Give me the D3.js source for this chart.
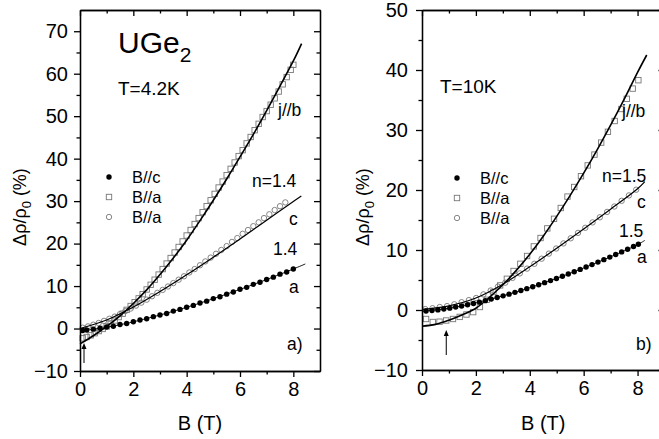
<!DOCTYPE html>
<html>
<head>
<meta charset="utf-8">
<script src="https://cdn.jsdelivr.net/npm/d3@7"></script>
<style>
  body { margin: 0; background: #fff; }
  text { font-family: "Liberation Sans", Arial, sans-serif; fill: #000; }
</style>
</head>
<body>
<svg id="chart" width="659" height="439"></svg>
<script>
// ---- tick values ----
const xMajor = [0, 2, 4, 6, 8];
const xMinor = [1, 3, 5, 7];
const yMajorLeft = [-10, 0, 10, 20, 30, 40, 50, 60, 70];
const yMinorLeft = [-5, 5, 15, 25, 35, 45, 55, 65];
const yMajorRight = [-10, 0, 10, 20, 30, 40, 50];
const yMinorRight = [-5, 5, 15, 25, 35, 45];

// ---- T = 4.2 K : measured points [B (T), Δρ/ρ0 (%)] ----
const lowBc = [[0.10,-0.45],[0.25,-0.35],[0.50,-0.15],[0.75,0.05],[1.00,0.35],[1.25,0.55],[1.50,0.95],[1.75,1.2],[2.00,1.6],[2.25,2.0],[2.50,2.3],[2.75,2.8],[3.00,3.2],[3.25,3.55],[3.50,4.1],[3.75,4.5],[4.00,5.0],[4.25,5.45],[4.50,6.0],[4.75,6.45],[5.00,7.05],[5.25,7.5],[5.50,8.1],[5.75,8.6],[6.00,9.25],[6.25,9.7],[6.50,10.4],[6.75,10.9],[7.00,11.55],[7.25,12.1],[7.50,12.8],[7.75,13.3],[8.00,14.0]];
const lowBaJb = [[0.10,-2.3],[0.25,-2.0],[0.40,-1.6],[0.55,-1.1],[0.70,-0.6],[0.85,-0.1],[1.00,0.5],[1.15,1.2],[1.30,1.9],[1.45,2.7],[1.60,3.5],[1.75,4.4],[1.90,5.3],[2.05,6.2],[2.20,7.1],[2.35,8.1],[2.50,9.2],[2.65,10.3],[2.80,11.5],[2.95,12.7],[3.10,14.0],[3.25,15.3],[3.40,16.6],[3.55,17.9],[3.70,19.2],[3.85,20.5],[4.00,21.9],[4.15,23.2],[4.30,24.6],[4.45,26.0],[4.60,27.4],[4.75,28.8],[4.90,30.2],[5.05,31.7],[5.20,33.2],[5.35,34.6],[5.50,36.1],[5.65,37.6],[5.80,39.1],[5.95,40.6],[6.10,42.0],[6.25,43.6],[6.40,45.1],[6.55,46.7],[6.70,48.2],[6.85,49.8],[7.00,51.2],[7.15,52.7],[7.30,54.2],[7.45,55.8],[7.60,57.5],[7.75,59.2],[7.90,60.9],[8.00,62.1]];
const lowBaJc = [[0.1,0.2],[0.3,0.5],[0.5,0.9],[0.7,1.3],[0.9,1.8],[1.1,2.3],[1.3,2.8],[1.5,3.4],[1.7,4.1],[1.9,4.7],[2.1,5.4],[2.3,6.1],[2.5,6.8],[2.7,7.6],[2.9,8.4],[3.1,9.1],[3.3,9.9],[3.5,10.7],[3.7,11.5],[3.9,12.3],[4.1,13.2],[4.3,14.0],[4.5,14.9],[4.7,15.8],[4.9,16.7],[5.1,17.6],[5.3,18.5],[5.5,19.4],[5.7,20.4],[5.9,21.3],[6.1,22.3],[6.3,23.2],[6.5,24.1],[6.7,25.0],[6.9,26.0],[7.1,26.9],[7.3,27.9],[7.5,28.8],[7.7,29.7]];
// fitted curves, 4.2 K
const lowFitJb = [[0,-3.6],[0.5,-1.7],[1,0.5],[1.5,3.0],[2,5.9],[2.5,9.1],[3,12.7],[3.5,16.6],[4,20.8],[4.5,25.4],[5,30.2],[5.5,35.2],[6,40.4],[6.5,45.7],[7,51.3],[7.5,57.1],[8,63.0],[8.31,67.1]];
const lowFitC = [[0,0],[1,2.0],[2,5.05],[3,8.7],[4,12.65],[5,16.8],[6,21.1],[7,25.5],[8,29.9],[8.3,31.2]];
const lowFitA = [[0,-0.5],[0.5,-0.2],[1,0.29],[1.5,0.89],[2,1.58],[3,3.18],[4,5.0],[5,7.02],[6,9.2],[7,11.53],[8,14.02],[8.45,15.2]];

// ---- T = 10 K : measured points ----
const highBc = [[0.15,-0.17],[0.37,-0.09],[0.59,0.02],[0.81,0.16],[1.03,0.31],[1.25,0.49],[1.47,0.67],[1.69,0.88],[1.91,1.09],[2.13,1.32],[2.35,1.56],[2.57,1.82],[2.79,2.08],[3.01,2.36],[3.23,2.64],[3.45,2.94],[3.67,3.25],[3.89,3.56],[4.11,3.88],[4.33,4.21],[4.55,4.56],[4.77,4.90],[4.99,5.26],[5.21,5.63],[5.43,6.00],[5.65,6.38],[5.87,6.77],[6.09,7.16],[6.31,7.57],[6.53,7.98],[6.75,8.39],[6.97,8.82],[7.19,9.25],[7.41,9.68],[7.63,10.13],[7.85,10.58],[8.03,10.95]];
const highBaJb = [[0.15,-1.5],[0.40,-2.0],[0.65,-1.95],[0.90,-1.75],[1.15,-1.5],[1.40,-1.15],[1.65,-0.75],[1.90,-0.35],[2.15,0.5],[2.40,1.7],[2.65,3.0],[2.90,4.1],[3.15,5.2],[3.40,6.5],[3.65,7.7],[3.90,9.0],[4.15,10.6],[4.40,12.0],[4.65,13.6],[4.90,15.2],[5.15,17.0],[5.40,18.9],[5.65,20.5],[5.90,22.3],[6.15,24.1],[6.40,25.9],[6.65,27.9],[6.90,29.7],[7.15,31.5],[7.40,33.5],[7.60,35.2],[7.82,36.9],[8.03,38.3]];
const highBaJc = [[0.12,0.15],[0.39,0.3],[0.66,0.5],[0.93,0.65],[1.20,0.95],[1.47,1.3],[1.74,1.65],[2.01,2.0],[2.28,2.6],[2.55,3.25],[2.82,3.9],[3.09,4.55],[3.36,5.35],[3.63,6.1],[3.90,6.9],[4.17,7.7],[4.44,8.55],[4.71,9.4],[4.98,10.25],[5.25,11.1],[5.52,11.95],[5.79,12.85],[6.06,13.7],[6.33,14.6],[6.60,15.45],[6.87,16.35],[7.14,17.25],[7.41,18.2],[7.68,19.1],[7.95,20.05]];
// fitted curves, 10 K
const highFitJb = [[0,-2.7],[0.5,-2.4],[1,-1.7],[1.5,-0.8],[2,0.3],[2.5,2.1],[3,4.2],[3.5,6.6],[4,9.3],[4.5,12.3],[5,15.6],[5.5,19.1],[6,22.8],[6.5,26.7],[7,30.8],[7.5,35.1],[8,39.6],[8.34,42.5]];
const highFitC = [[0,0.1],[1,0.7],[2,2.0],[3,4.3],[4,7.2],[5,10.3],[6,13.5],[7,16.8],[8,20.2],[8.27,21.4]];
const highFitA = [[0,-0.2],[1,0.29],[2,1.19],[3,2.35],[4,3.72],[5,5.28],[6,7.0],[7,8.87],[8,10.89],[8.27,11.6]];

const legendLabels = ["B//c", "B//a", "B//a"];

const svg = d3.select("#chart");
const FONT = '"Liberation Sans", Arial, sans-serif';

function marker(g, kind, cx, cy) {
  if (kind === "dot") {
    g.append("circle").attr("cx", cx).attr("cy", cy).attr("r", 2.7).attr("fill", "#000");
  } else if (kind === "square") {
    g.append("rect").attr("x", cx - 2.7).attr("y", cy - 2.7).attr("width", 5.4).attr("height", 5.4)
      .attr("fill", "none").attr("stroke", "#777").attr("stroke-width", 0.9);
  } else {
    g.append("circle").attr("cx", cx).attr("cy", cy).attr("r", 2.7)
      .attr("fill", "none").attr("stroke", "#777").attr("stroke-width", 0.9);
  }
}

function styleAxis(sel, fs) {
  sel.selectAll("path, line").attr("stroke", "#000").attr("stroke-width", 1.3);
  sel.selectAll("text").attr("font-size", fs).attr("font-family", FONT).attr("fill", "#000");
}

function drawPanel(p) {
  const x = d3.scaleLinear().domain([0, 9]).range([p.left, p.right]);
  const y = d3.scaleLinear().domain(p.yDomain).range([p.bottom, p.top]);
  const g = svg.append("g");

  // measured points
  const pts = g.append("g");
  p.squares.forEach(d => marker(pts, "square", x(d[0]), y(d[1])));
  p.circles.forEach(d => marker(pts, "circle", x(d[0]), y(d[1])));
  p.dots.forEach(d => marker(pts, "dot", x(d[0]), y(d[1])));

  // fitted curves
  const line = d3.line().x(d => x(d[0])).y(d => y(d[1])).curve(d3.curveCatmullRom.alpha(0.5));
  g.append("path").attr("d", line(p.fitJb)).attr("fill", "none").attr("stroke", "#000").attr("stroke-width", 1.6);
  g.append("path").attr("d", line(p.fitC)).attr("fill", "none").attr("stroke", "#000").attr("stroke-width", 1.2);
  g.append("path").attr("d", line(p.fitA)).attr("fill", "none").attr("stroke", "#000").attr("stroke-width", 0.9);

  // axes: ticks out on left/bottom, in on top/right
  const fs = 20;
  g.append("g").attr("transform", `translate(0,${p.bottom})`)
    .call(d3.axisBottom(x).tickValues(xMajor).tickSize(6).tickSizeOuter(0).tickPadding(5).tickFormat(d3.format("d")))
    .call(s => styleAxis(s, fs));
  g.append("g").attr("transform", `translate(0,${p.bottom})`)
    .call(d3.axisBottom(x).tickValues(xMinor).tickSize(3.5).tickSizeOuter(0).tickFormat(""))
    .call(s => styleAxis(s, fs));
  g.append("g").attr("transform", `translate(0,${p.top})`)
    .call(d3.axisTop(x).tickValues(xMajor).tickSize(-6).tickSizeOuter(0).tickFormat(""))
    .call(s => styleAxis(s, fs));
  g.append("g").attr("transform", `translate(0,${p.top})`)
    .call(d3.axisTop(x).tickValues(xMinor).tickSize(-3.5).tickSizeOuter(0).tickFormat(""))
    .call(s => styleAxis(s, fs));
  g.append("g").attr("transform", `translate(${p.left},0)`)
    .call(d3.axisLeft(y).tickValues(p.yMajor).tickSize(6).tickSizeOuter(0).tickPadding(p.yPad).tickFormat(d3.format("d")))
    .call(s => styleAxis(s, fs));
  g.append("g").attr("transform", `translate(${p.left},0)`)
    .call(d3.axisLeft(y).tickValues(p.yMinor).tickSize(3.5).tickSizeOuter(0).tickFormat(""))
    .call(s => styleAxis(s, fs));
  g.append("g").attr("transform", `translate(${p.right},0)`)
    .call(d3.axisRight(y).tickValues(p.yMajor).tickSize(-6).tickSizeOuter(0).tickFormat(""))
    .call(s => styleAxis(s, fs));
  g.append("g").attr("transform", `translate(${p.right},0)`)
    .call(d3.axisRight(y).tickValues(p.yMinor).tickSize(-3.5).tickSizeOuter(0).tickFormat(""))
    .call(s => styleAxis(s, fs));

  // axis titles
  g.append("text").attr("x", (p.left + p.right) / 2).attr("y", 430)
    .attr("text-anchor", "middle").attr("font-size", 20).text("B (T)");
  const yt = g.append("text").attr("transform", `translate(${p.yTitleX},207) rotate(-90)`)
    .attr("text-anchor", "middle").attr("font-size", 18);
  yt.append("tspan").text("Δρ/ρ");
  yt.append("tspan").attr("font-size", 13).attr("dy", 5).text("0");
  yt.append("tspan").attr("dy", -5).text(" (%)");

  // legend
  const kinds = ["dot", "square", "circle"];
  kinds.forEach((k, i) => {
    const ly = p.legendY + i * 20;
    marker(g, k, p.legendX, ly);
    g.append("text").attr("x", p.legendX + 23).attr("y", ly + 6).attr("font-size", 16.5).text(legendLabels[i]);
  });

  // annotations
  p.notes.forEach(n => {
    g.append("text").attr("x", n[0]).attr("y", n[1]).attr("font-size", 17.5).text(n[2]);
  });
  g.append("text").attr("x", p.tempX).attr("y", p.tempY).attr("font-size", 19).text(p.temp);

  // field arrow
  g.append("line").attr("x1", x(p.arrowB)).attr("x2", x(p.arrowB))
    .attr("y1", p.arrowY1).attr("y2", p.arrowY2 + 3).attr("stroke", "#000").attr("stroke-width", 1);
  g.append("path")
    .attr("d", `M${x(p.arrowB)},${p.arrowY2} l-2.5,6 l5,0 z`).attr("fill", "#000");
  return g;
}

const gLeft = drawPanel({
  left: 80, right: 320, top: 10, bottom: 371,
  yDomain: [-10, 75], yMajor: yMajorLeft, yMinor: yMinorLeft, yPad: 6,
  dots: lowBc, squares: lowBaJb, circles: lowBaJc,
  fitJb: lowFitJb, fitC: lowFitC, fitA: lowFitA,
  yTitleX: 26, legendX: 109, legendY: 177,
  temp: "T=4.2K", tempX: 118, tempY: 95,
  notes: [[278, 116, "j//b"], [252, 187, "n=1.4"], [289, 225, "c"], [273, 255, "1.4"], [289, 293, "a"], [287, 350, "a)"]],
  arrowB: 0.15, arrowY1: 363, arrowY2: 343
});

// compound label
const ug = gLeft.append("text").attr("x", 118).attr("y", 53).attr("font-size", 30);
ug.append("tspan").text("UGe");
ug.append("tspan").attr("font-size", 21).attr("dy", 9).text("2");

drawPanel({
  left: 422, right: 664.5, top: 10, bottom: 370,
  yDomain: [-10, 50], yMajor: yMajorRight, yMinor: yMinorRight, yPad: 8,
  dots: highBc, squares: highBaJb, circles: highBaJc,
  fitJb: highFitJb, fitC: highFitC, fitA: highFitA,
  yTitleX: 369, legendX: 457, legendY: 178,
  temp: "T=10K", tempX: 440, tempY: 93,
  notes: [[622, 117, "j//b"], [602, 182, "n=1.5"], [637, 208, "c"], [619, 237, "1.5"], [637, 263, "a"], [636, 350, "b)"]],
  arrowB: 0.9, arrowY1: 355, arrowY2: 330
});
</script>
</body>
</html>
